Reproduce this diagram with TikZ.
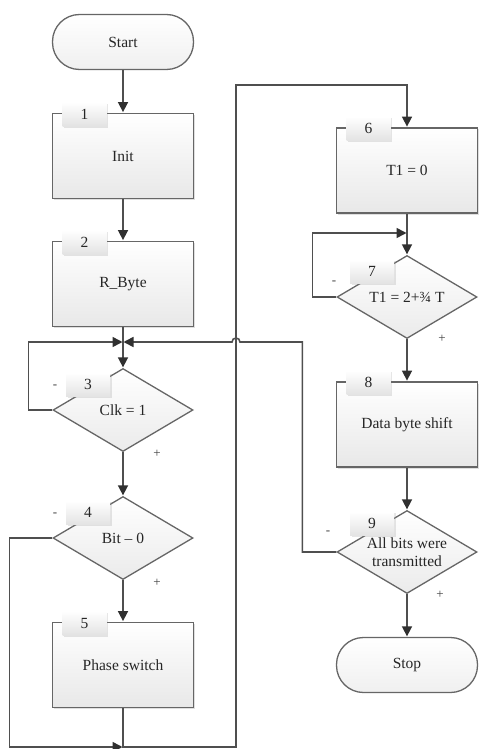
\documentclass[tikz,border=0pt]{standalone}
\usepackage{fontspec}
\setmainfont{Liberation Serif}
\usetikzlibrary{arrows.meta,calc,shapes.geometric,shadows}
\definecolor{linegray}{HTML}{4F4F4F}
\definecolor{edgegray}{HTML}{666666}
\definecolor{tipgray}{HTML}{303030}

\begin{document}
\begin{tikzpicture}[
        x=1pt,y=-1pt,
        font=\fontsize{15.5}{18}\selectfont,
        wire/.style={draw=linegray,line width=1.6pt},
        flow/.style={wire,shorten >=0.5pt,
                     -{Triangle[length=10pt,width=10pt,color=tipgray]}},
        term/.style={draw=edgegray,line width=1.3pt,rounded corners=27pt,
                     minimum width=141pt,minimum height=55pt,
                     top color=white,bottom color=black!6},
        proc/.style={draw=edgegray,line width=1.8pt,
                     minimum width=141pt,minimum height=85pt,
                     top color=white,bottom color=black!9,
                     drop shadow={shadow xshift=1.5pt,shadow yshift=-1.5pt,opacity=0.25}},
        test/.style={diamond,draw=edgegray,line width=1.3pt,inner sep=0pt,
                     minimum width=140pt,minimum height=83pt,
                     top color=white,bottom color=black!8},
        tab/.style={minimum width=44pt,minimum height=24pt,inner sep=0pt,
                    top color=white,bottom color=black!11,
                    drop shadow={shadow xshift=1.5pt,shadow yshift=-1.5pt,opacity=0.2}},
        sign/.style={font=\fontsize{13}{15}\selectfont,text=black!75},
        every node/.style={align=center,text=black!85}
      ]
        \useasboundingbox (0,0) rectangle (479,749);

        % left column
        \node[term] (start) at (123,42) {Start};
        \node[proc] (init) at (123,156) {Init};
        \node[proc] (rbyte) at (123,284) {R\_Byte};
        \node[test] (d3) at (123,410) {};
        \node (d3txt) at (d3) {Clk = 1};
        \node[test] (d4) at (123,538) {};
        \node (d4txt) at (d4) {Bit – 0};
        \node[proc] (phase) at (123,665) {Phase switch};

        % right column
        \node[proc] (t1zero) at (407,170.5) {T1 = 0};
        \node[test] (d7) at (407,297) {};
        \node (d7txt) at (d7) {T1 = 2+¾ T};
        \node[proc] (shift) at (407,424.5) {Data byte shift};
        \node[test] (d9) at (407,552) {};
        \node (d9txt) at (d9) {All bits were\\transmitted};
        \node[term] (stop) at (407,665) {Stop};

        \coordinate (j1) at (123,342);
        \coordinate (j7) at (407,233);
        \coordinate (jb) at (123,747);

        \draw[flow] (start)--(init);
        \draw[flow] (init)--(rbyte);
        \draw[wire] (rbyte)--(j1);
        \draw[flow] (j1)--(d3);
        \draw[flow] (d3.west)--++(-24,0)|-(j1);
        \draw[flow] (d3)--(d4);
        \draw[flow] (d4)--(phase);
        \draw[flow] (d4.west)--++(-43,0)|-(jb);
        \draw[flow] (phase)--(jb)-|(236,85)-|(t1zero);

        \draw[wire] (t1zero)--(j7);
        \draw[flow] (j7)--(d7);
        \draw[flow] (d7.west)--++(-24,0)|-(j7);
        \draw[flow] (d7)--(shift);
        \draw[flow] (shift)--(d9);
        \draw[flow] (d9)--(stop);
        \draw[flow] (d9.west)--++(-34,0)|-(240,342)
              arc[start angle=0,end angle=180,radius=4pt]--(j1);

        % number tabs
        \node[tab] (n1) at ($(init.north west)+(33,1.5)$) {1};
        \node[tab] (n2) at ($(rbyte.north west)+(33,1.5)$) {2};
        \node[tab] (n3) at ($(d3.north)+(-35,17)$) {3};
        \node[tab] (n4) at ($(d4.north)+(-35,17)$) {4};
        \node[tab] (n5) at ($(phase.north west)+(33,1.5)$) {5};
        \node[tab] (n6) at ($(t1zero.north west)+(33,1.5)$) {6};
        \node[tab] (n7) at ($(d7.north)+(-35,17)$) {7};
        \node[tab] (n8) at ($(shift.north west)+(33,1.5)$) {8};
        \node[tab] (n9) at ($(d9.north)+(-35,14)$) {9};

        \node[sign] (m3) at (55,387) {-};
        \node[sign] (p3) at (157,454) {+};
        \node[sign] (m4) at (55,515) {-};
        \node[sign] (p4) at (157,583) {+};
        \node[sign] (m7) at (334,283) {-};
        \node[sign] (p7) at (442,339) {+};
        \node[sign] (m9) at (328,533) {-};
        \node[sign] (p9) at (440,595) {+};
      \end{tikzpicture}
\end{document}
